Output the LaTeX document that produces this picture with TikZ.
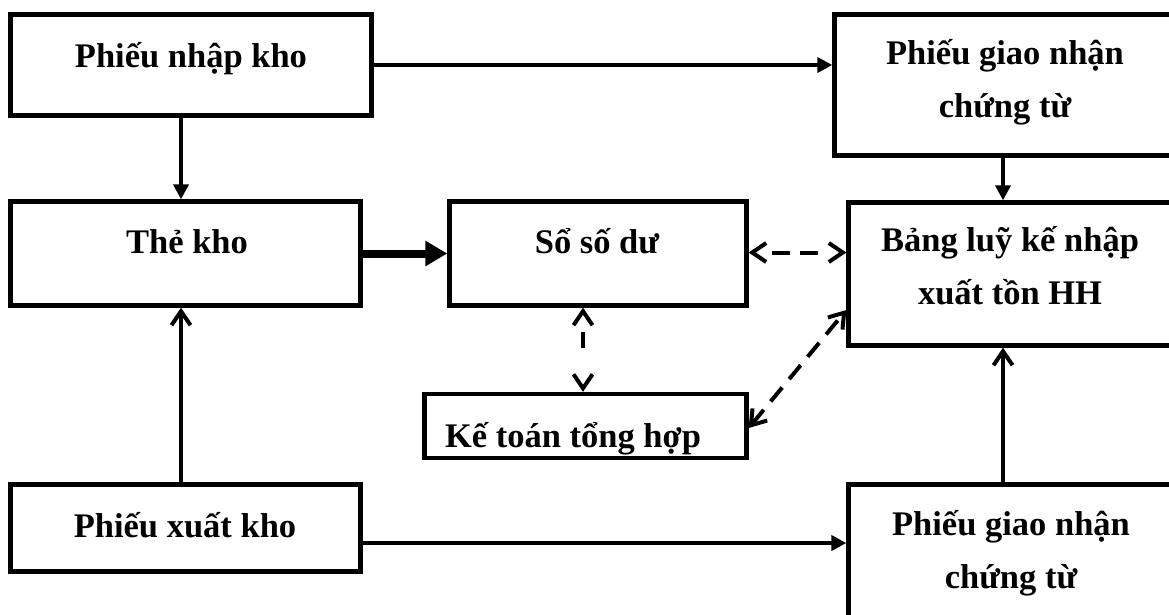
\documentclass[tikz,border=0pt]{standalone}
\usepackage{fontspec}
\setmainfont{Liberation Serif}
\usetikzlibrary{arrows.meta}
\begin{document}
\begin{tikzpicture}[x=1pt,y=-1pt,
  box/.style={draw, line width=4.3pt, inner sep=0pt},
  lbl/.style={font=\fontsize{34.5}{53}\selectfont\bfseries, align=center, anchor=base, inner sep=0pt},
  link/.style={line width=4pt},
  solidtip/.style={link, -{Triangle[length=15pt,width=15pt]}},
  opentip/.style={link, -{Straight Barb[length=14pt,width=19pt]}},
  bigtip/.style={line width=8pt, -{Triangle[length=22pt,width=24pt]}},
  dashtip/.style={link,
    {Straight Barb[length=14pt,width=19pt]}-{Straight Barb[length=14pt,width=19pt]}}]
\fill[white] (0,0) rectangle (1169,614);
\clip (0,0) rectangle (1169,614);

% boxes
\node[box, minimum width=361pt, minimum height=101pt] (nhap)   at (191,65)    {};
\node[box, minimum width=350pt, minimum height=104pt] (the)    at (185.5,253.5) {};
\node[box, minimum width=350pt, minimum height=87pt]  (xuat)   at (185.5,528) {};
\node[box, minimum width=297pt, minimum height=104pt] (sodu)   at (598,253.5) {};
\node[box, minimum width=322pt, minimum height=64pt]  (ketoan) at (585.5,426)  {};
\node[box, minimum width=323pt, minimum height=143pt] (bang)   at (1010,274)  {};
\node[box, minimum width=341pt, minimum height=141pt] (giao1)  at (1005,85)   {};
\node[box, minimum width=325pt, minimum height=205pt] (giao2)  at (1011,587)  {};

% texts (two-line labels are anchored on the baseline of their last line)
\node[lbl] (nhapT)   at (191,67)  {Phiếu nhập kho};
\node[lbl] (theT)    at (187,253) {Thẻ kho};
\node[lbl] (xuatT)   at (185,537) {Phiếu xuất kho};
\node[lbl] (soduT)   at (597,253) {Sổ số dư};
\node[lbl] (ketoanT) at (573,447) {Kế toán tổng hợp};
\node[lbl] (bangT)   at (1010,304) {Bảng luỹ kế nhập\\xuất tồn HH};
\node[lbl] (giao1T)  at (1005,117) {Phiếu giao nhận\\chứng từ};
\node[lbl] (giao2T)  at (1011,588) {Phiếu giao nhận\\chứng từ};

% connectors
\draw[solidtip] (nhap.east) -- (nhap.east -| giao1.west);
\draw[solidtip] ([xshift=-4.5pt]the.north |- nhap.south) -- ([xshift=-4.5pt]the.north);
\draw[bigtip] (the.east) -- (sodu.west);
\draw[solidtip] ([xshift=-2pt]giao1.south) -- ([xshift=-2pt]giao1.south |- bang.north);
\draw[dashtip, dash pattern=on 0pt off 18pt on 18pt off 10pt on 18pt off 30pt]
  ([yshift=1pt]sodu.east) -- ([yshift=1pt]sodu.east -| bang.west);
\draw[dashtip, dash pattern=on 0pt off 19pt on 16pt off 40pt]
  ([xshift=-15pt]sodu.south) -- ([xshift=-15pt]sodu.south |- ketoan.north);
\draw[dashtip, dash pattern=on 18pt off 11pt]
  ([yshift=-2pt]ketoan.east) -- ([yshift=-36pt]bang.west);
\draw[opentip] ([xshift=-4.5pt]the.south |- xuat.north) -- ([xshift=-4.5pt]the.south);
\draw[solidtip] ([yshift=-15pt]xuat.east) -- ([yshift=-15pt]xuat.east -| giao2.west);
\draw[opentip] ([xshift=-8pt]giao2.north) -- ([xshift=-8pt]giao2.north |- bang.south);
\end{tikzpicture}
\end{document}
